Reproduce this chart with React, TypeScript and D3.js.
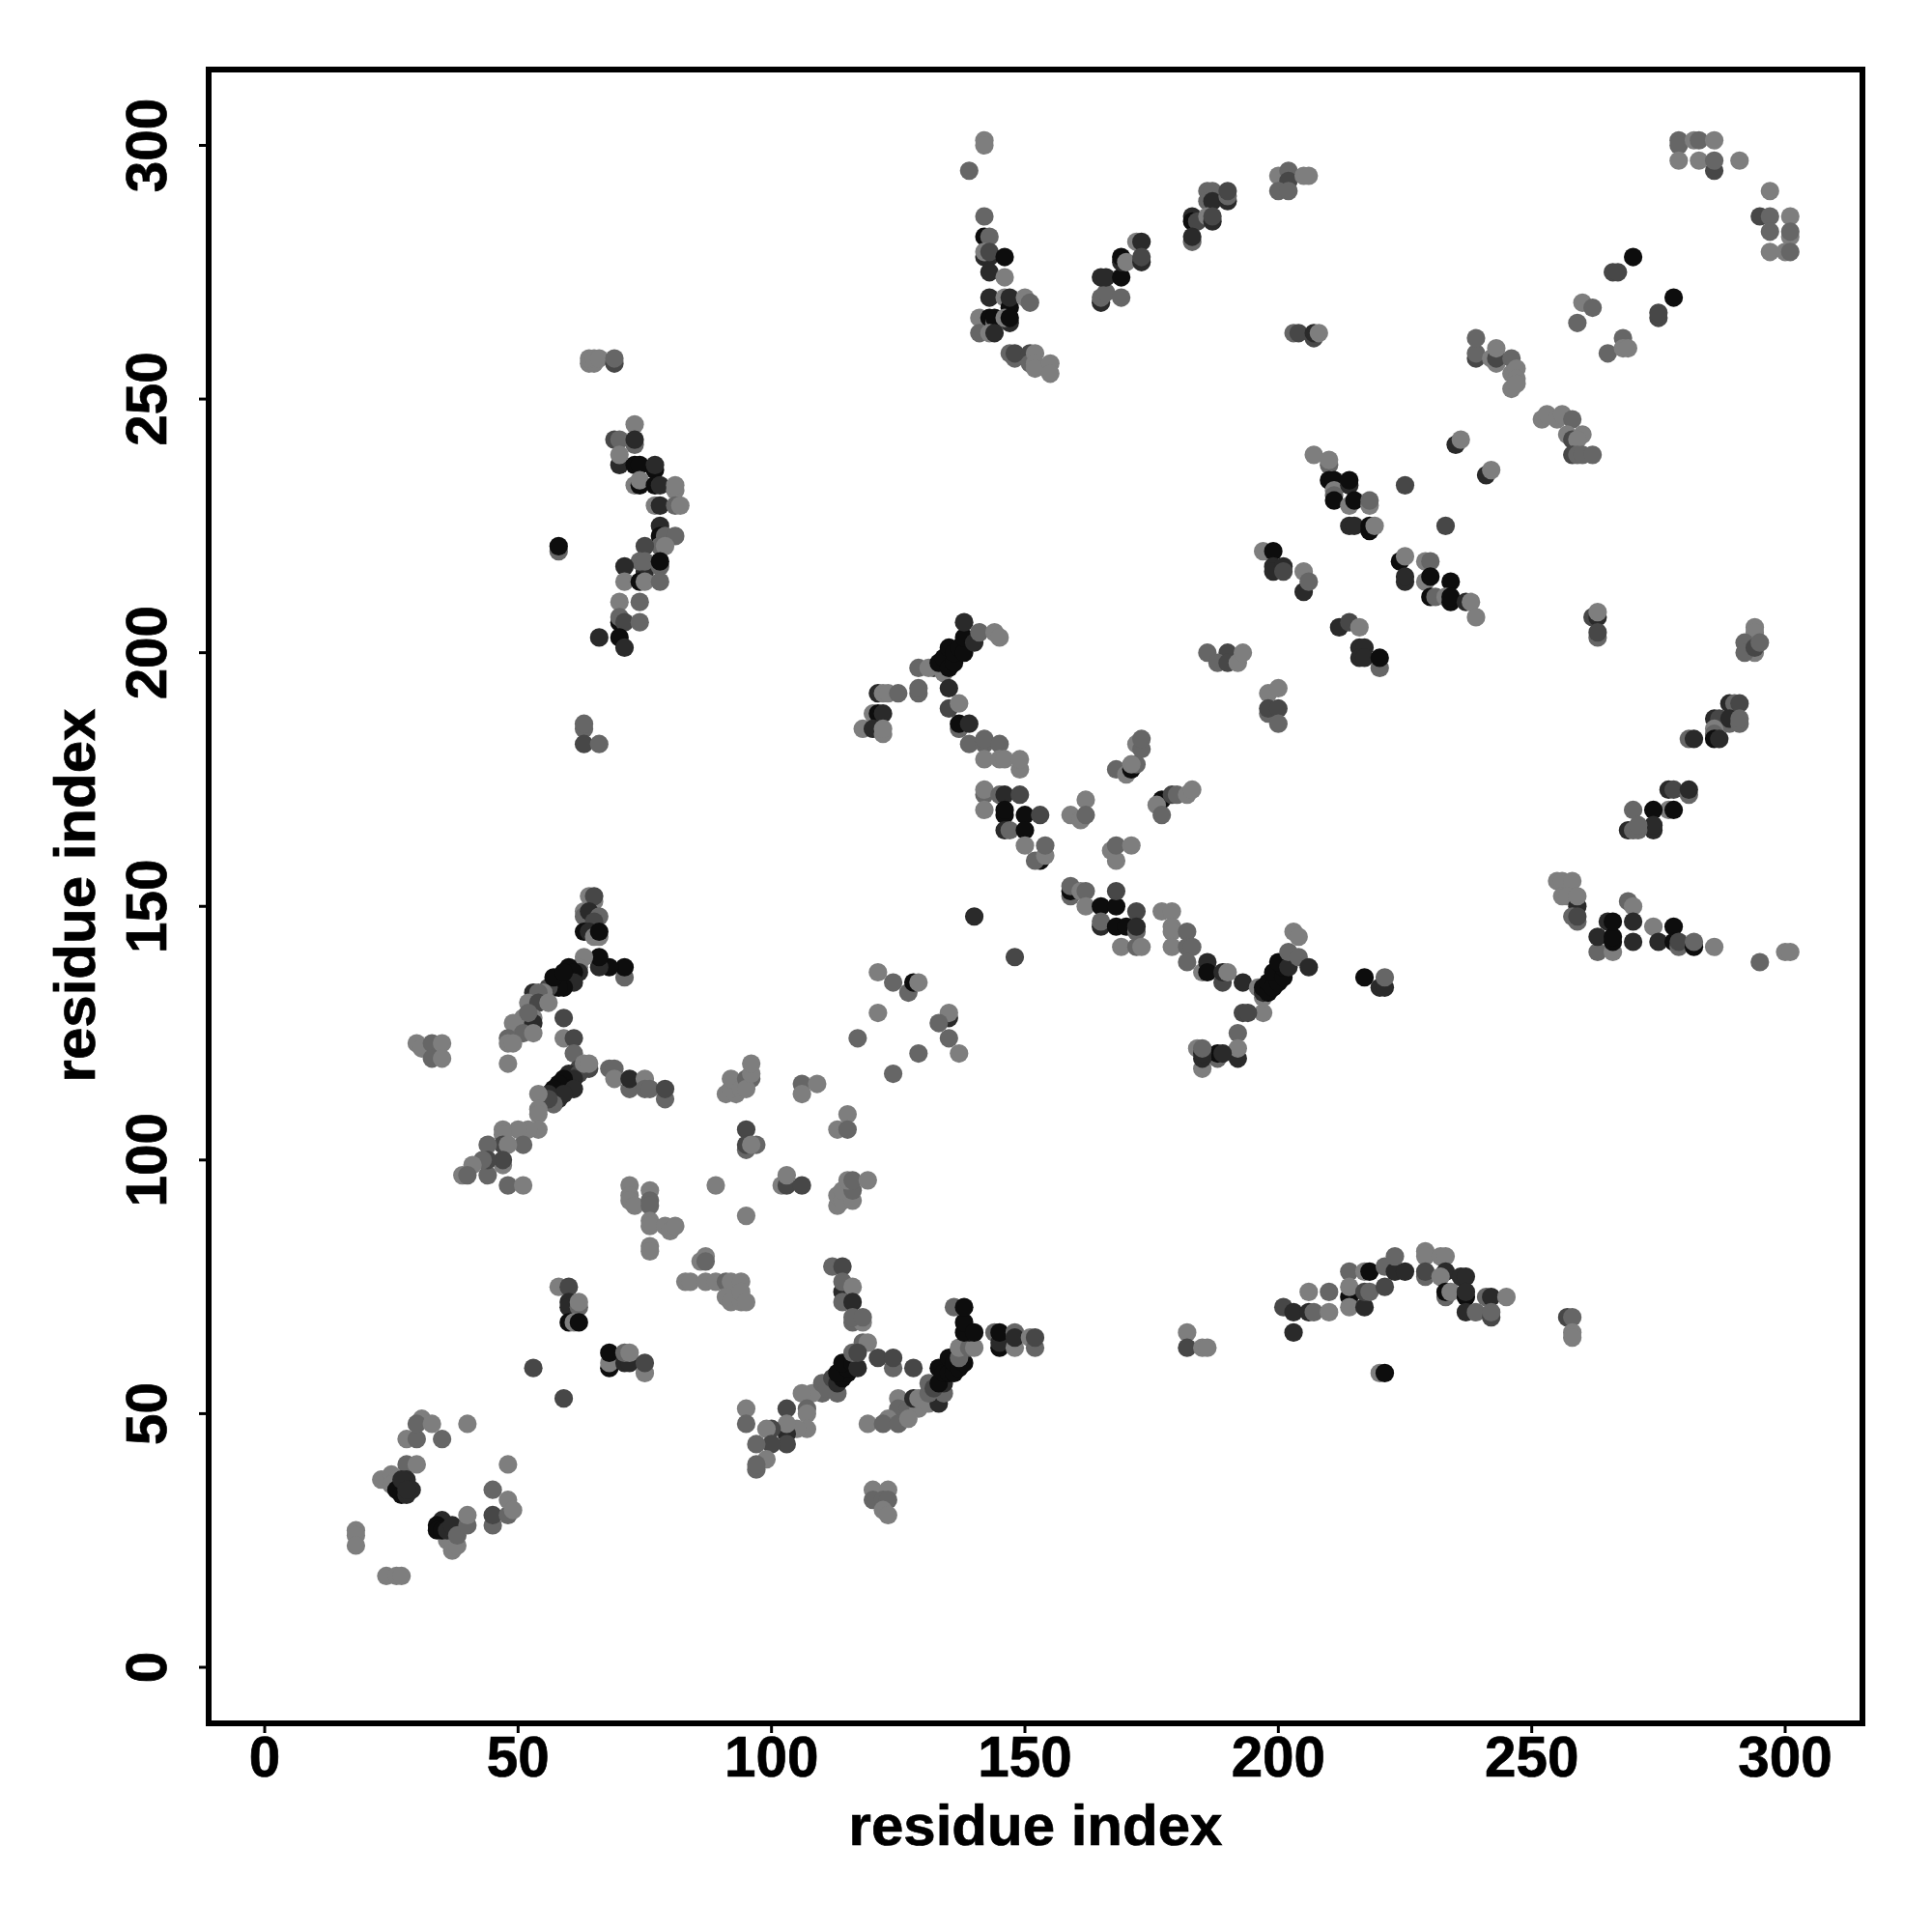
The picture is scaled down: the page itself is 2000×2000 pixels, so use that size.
import React from "react";
import * as d3 from "d3";

// each contact: [residue i, residue j, shade level 1 (weakest, light) .. 5 (strongest, black)]
type C = [number, number, number];

const tickValues = [0, 50, 100, 150, 200, 250, 300];
const axisTitle = "residue index";
const shadeLevels = [1, 2, 3, 4, 5];
const shadeColors = ["#7e7e7e", "#666666", "#474747", "#2a2a2a", "#0d0d0d"];

const lowerLeft: C[] = [
  [18,27,1],[18,26,1],[18,24,1],[24,18,1],[26,18,1],[27,18,1],
  [23,37,1],[25,38,1],[26,37,1],[25,36,1],[28,40,2],[30,40,1],[26,35,5],[27,34,5],[28,37,4],[27,37,4],[28,34,4],[29,35,4],[28,35,4],
  [28,45,1],[30,45,2],[35,45,2],[31,49,1],[30,48,2],[33,48,1],[40,48,1],
  [37,23,1],[36,25,1],[37,25,1],[38,24,1],[35,29,4],[34,28,5],[34,27,5],[35,27,5],[36,27,4],[37,28,4],[38,26,2],[40,28,2],[40,30,1],
  [48,40,1],[45,35,2],[45,28,2],[45,30,3],[48,30,2],[48,33,1],[49,31,1],
  [53,59,3],[59,53,3],
  [58,75,1],[60,75,3],[60,72,4],[60,71,4],[62,71,2],[62,72,1],[60,68,5],[61,68,1],[62,68,5],
  [68,59,5],[68,60,1],[68,62,5],[71,60,4],[72,60,4],[71,62,2],[72,62,1],[75,58,1],[75,60,3],
];

const helixUpperBranch: C[] = [
  [64,152,1],[65,151,1],[65,152,3],[63,149,1],[63,148,2],[64,149,4],[66,148,2],[65,147,3],[63,145,5],[64,145,4],[65,144,1],[66,144,1],[66,145,5],
  [71,136,2],[71,138,5],[68,138,5],[66,138,4],[66,140,5],[63,140,1],[62,138,1],[62,137,4],[60,136,5],[60,138,5],[61,137,5],[61,135,4],
  [58,136,5],[59,134,5],[57,134,5],[58,134,5],[56,134,3],[57,136,5],[59,137,5],[55,133,1],[53,133,4],[54,133,2],[52,131,1],[54,131,3],[56,131,1],
  [51,128,1],[53,128,1],[53,127,4],[52,129,2],[49,127,1],[51,125,2],[53,125,1],[48,124,2],[48,123,1],[49,123,1],[48,119,1],[59,128,3],
];

const helixLowerBranch: C[] = [
  [59,124,1],[61,124,3],[61,121,2],[62,118,3],[64,118,3],[60,117,4],[62,117,3],[61,116,4],[59,116,5],[60,114,5],[58,115,5],[57,114,5],[58,112,4],[61,114,4],[59,113,4],[56,113,4],[57,111,2],[55,112,3],[56,112,3],[63,119,1],[64,119,1],
  [54,113,1],[54,110,1],[54,109,1],[54,106,1],[52,106,1],[50,106,1],[47,106,1],[47,105,1],
  [51,103,2],[47,103,3],[48,103,1],[44,103,2],[47,99,1],[47,100,3],[44,97,2],[44,100,3],[43,100,2],[41,99,1],[39,97,1],[40,97,2],[48,95,2],[51,95,1],
  [68,118,2],[69,118,2],[69,116,1],[72,114,2],[72,116,4],[75,116,1],[75,114,2],[76,114,2],[79,112,2],[79,114,3],
  [30,123,1],[31,122,1],[33,123,2],[35,123,1],[33,120,2],[35,120,1],
];

const centreScatter: C[] = [
  [91,113,1],[93,113,1],[92,114,1],[92,116,1],[94,114,1],[95,116,2],[96,116,2],[95,114,1],[96,117,1],[96,119,1],
  [106,115,2],[109,115,1],[106,113,1],[115,109,1],[113,106,1],[115,106,2],[95,106,3],[95,102,2],[95,103,3],[97,103,2],[96,103,1],
  [102,95,1],[103,95,3],[103,97,1],[106,95,3],
  [113,91,1],[113,93,1],[114,92,1],[116,92,1],[114,94,1],[116,94,2],[115,96,1],[116,96,2],[119,96,1],[95,89,1],[89,95,1],
  [72,95,1],[72,93,1],[72,92,1],[73,91,1],[76,94,1],[76,92,2],[76,91,2],[76,88,1],[76,87,1],[79,87,1],[80,86,1],[81,87,1],[76,83,1],[76,82,1],
  [87,81,1],[86,80,1],[87,80,2],[83,76,1],[84,76,1],[87,76,1],[89,76,1],[91,76,2],[92,76,1],[94,76,1],[91,73,1],[92,72,1],[94,72,1],[94,74,1],[95,72,1],
];

const lowerHelices: C[] = [
  [112,79,2],[114,79,3],[114,74,4],[114,76,2],[116,75,1],[114,72,2],[116,72,4],[116,68,2],[118,68,1],[116,69,2],[118,69,2],
  [118,64,2],[119,64,1],[121,61,3],[124,59,2],[124,61,3],[128,59,3],
  [110,54,2],[113,54,2],[108,54,1],[106,54,1],[107,51,2],[107,50,1],[107,47,1],[105,47,1],[103,51,3],[103,46,4],[103,48,1],[103,44,3],[100,47,3],[99,47,1],[100,44,3],[97,44,2],[99,41,1],[97,39,2],[97,40,2],[95,51,1],[95,48,2],[119,48,1],
  [110,56,2],[111,55,2],[112,57,3],[113,56,4],[114,57,5],[115,58,5],[113,58,5],[115,59,5],[114,60,5],[116,60,5],[117,59,4],[116,62,2],[117,62,3],
  [125,53,1],[125,51,2],[127,51,2],[129,51,1],[123,49,1],[122,48,2],[125,48,2],[127,49,1],[128,53,4],[129,53,1],
  [131,52,1],[133,52,4],[131,54,2],[134,54,2],[131,56,2],[132,55,3],[134,56,4],[133,56,5],[133,59,5],[134,58,5],[135,58,5],[136,58,5],[135,61,5],[136,60,5],[137,59,5],[138,60,5],[137,61,2],
  [137,63,1],[139,63,2],[140,63,1],[139,66,4],[138,66,5],[138,68,5],[140,66,5],[136,71,2],[138,71,5],
  [144,66,2],[145,63,5],[145,64,4],[145,66,5],[148,63,1],[148,66,2],[148,65,4],[151,65,1],[152,63,2],[152,65,3],
  [120,35,1],[123,35,1],[120,33,2],[122,33,2],[123,33,2],[122,31,1],[123,30,1],
  [182,66,1],[182,63,3],[185,63,1],[186,63,1],
];

const arcAtEighty: C[] = [
  [201,71,3],[203,70,4],[203,66,4],[206,74,1],[210,74,2],[206,70,4],[207,70,2],[210,70,1],
  [214,78,2],[217,78,1],[218,78,5],[214,73,5],[214,75,1],[214,71,1],[217,71,4],[217,74,3],[218,74,2],[221,75,3],[221,79,2],[223,78,4],[223,81,2],[225,78,4],[220,58,1],[221,58,5],
  [229,82,1],[229,81,1],[229,77,2],[229,78,3],[232,81,1],[233,81,1],[233,78,4],[232,77,1],[233,73,2],[233,74,5],[234,74,1],[236,77,4],[237,77,4],[237,73,5],[237,74,4],[237,70,4],[239,70,2],
  [241,73,2],[242,73,4],[245,73,1],[242,69,3],[242,70,2],[257,69,3],[258,69,2],[258,66,1],[258,65,1],
];

const centralDiagonal: C[] = [
  [132,197,3],[129,197,2],[131,197,1],[134,196,1],[133,198,5],[134,199,5],[135,197,5],[136,198,5],[135,201,5],[136,200,5],[137,201,5],[138,200,5],[138,203,5],[138,206,4],[140,202,4],[141,204,2],[144,204,1],[145,203,1],
  [129,192,2],[129,193,2],[135,193,4],[121,192,4],[122,192,1],[123,192,1],[125,192,2],
  [120,188,1],[121,188,5],[122,188,4],[118,185,1],[120,185,4],[122,184,1],[122,185,1],
  [135,189,3],[137,190,1],[137,185,2],[137,186,5],[139,186,4],[139,182,2],[142,182,2],[142,183,2],[145,182,2],[142,179,1],[145,179,1],[146,179,1],[149,177,1],[149,179,1],
  [142,172,2],[142,173,1],[142,169,1],[145,172,2],[146,172,4],[149,172,3],[146,168,5],[146,169,5],[150,168,5],[153,168,3],[146,165,4],[147,165,2],[150,165,5],[150,162,1],[153,159,5],[152,159,2],[154,160,1],[154,162,2],
  [140,148,4],[148,140,3],
  [162,171,1],[159,168,1],[161,167,1],[162,168,2],[168,177,2],[170,176,1],[171,177,5],[172,178,2],[171,178,1],[172,182,1],[173,181,2],[173,183,2],
  [167,161,1],[168,159,1],[168,162,2],[171,162,1],[177,171,5],[176,170,1],[177,168,2],[179,172,3],[180,172,2],[182,172,1],[183,173,1],
  [159,152,2],[159,153,5],[159,154,2],[161,153,1],[162,153,2],[162,150,1],
  [165,150,5],[168,150,5],[168,153,3],[172,149,3],[165,146,4],[165,147,2],[168,146,5],[170,146,5],[172,145,2],[172,146,4],
  [169,142,1],[172,142,2],[173,142,1],[177,149,1],[179,149,1],[179,146,1],[179,145,1],[179,142,1],[182,145,2],[182,142,2],[183,142,2],[182,139,2],
  [185,137,1],[186,139,4],[186,137,5],[189,135,3],[189,137,4],[190,137,1],[193,135,4],
  [197,129,1],[197,132,1],[196,134,1],[197,133,4],[197,134,5],[198,133,5],[198,135,5],[199,134,5],[200,135,5],[199,137,5],[201,136,5],[201,138,5],[200,139,5],[202,138,4],[202,141,2],[204,140,2],[206,138,4],[203,145,1],[204,144,1],
  [193,129,3],[194,129,3],[192,125,2],[192,120,4],[192,122,1],[188,120,2],[188,121,5],[189,121,4],[184,122,1],[185,118,1],[185,120,4],[185,121,4],[185,122,2],
  [217,136,5],[220,134,4],[221,134,4],[221,136,2],
  [121,137,1],[124,135,2],[127,133,2],[128,135,5],[129,135,1],[121,129,1],[135,128,4],[135,129,1],[133,127,2],[135,124,2],[117,124,2],[137,121,1],[129,121,2],[124,117,2],
];

const topMiddle: C[] = [
  [142,301,1],[142,300,1],[139,295,2],[142,286,2],[142,282,5],[143,282,2],[142,278,4],[143,278,4],[142,279,1],[143,279,3],[146,278,5],[143,275,4],[146,274,1],
  [143,270,4],[146,270,1],[147,268,5],[147,270,4],[150,270,1],[151,269,2],[141,266,1],[143,266,5],[144,265,2],[144,266,5],[147,265,4],[146,266,1],[147,266,5],[141,263,2],[143,263,1],[144,263,4],
  [147,259,2],[148,258,2],[148,259,3],[151,259,3],[151,257,2],[152,259,1],[152,257,1],[152,256,1],[155,257,1],[155,255,1],
  [165,269,4],[165,270,2],[166,271,2],[165,274,4],[166,274,4],[169,274,5],[169,270,2],[169,277,4],[169,278,5],[170,277,1],[172,281,1],[173,281,4],[173,277,4],[173,278,3],
  [183,286,4],[183,285,5],[184,285,3],[183,281,2],[183,282,4],[186,291,2],[187,291,2],[186,289,2],[187,289,4],[186,286,1],[187,285,4],[187,286,3],[190,289,4],[190,290,2],[190,291,3],
  [200,294,1],[202,295,2],[202,293,3],[205,294,1],[206,294,1],[200,291,2],[202,291,2],
  [203,263,2],[204,263,3],[207,262,3],[207,263,4],[208,263,1],
];

const upperRight: C[] = [
  [279,301,2],[279,300,2],[282,301,1],[283,301,2],[286,301,1],[279,297,1],[283,297,1],[286,295,3],[286,297,2],[291,297,1],[297,291,1],
  [295,286,3],[297,286,2],[301,286,1],[297,283,2],[301,282,1],[301,283,2],[297,279,1],[300,279,1],[301,279,2],
  [270,278,5],[266,275,3],[267,275,3],[278,270,5],[275,266,3],[275,267,3],
  [260,269,1],[262,268,2],[259,265,2],[268,262,2],[265,259,2],[268,260,1],[269,260,1],
  [239,258,3],[239,259,2],[239,262,2],[242,258,1],[243,257,1],[243,258,3],[243,260,1],[246,258,2],[246,255,1],[247,256,1],[247,254,1],[246,252,1],[247,253,1],
  [252,246,1],[253,247,1],[255,246,1],[256,247,1],[258,246,2],[257,243,1],[258,242,3],[260,243,1],[259,242,1],[258,239,3],[259,239,2],[260,239,2],[262,239,2],
  [235,241,4],[236,242,1],[241,235,4],[242,236,1],
];

const rightDiagonal: C[] = [
  [207,239,1],[210,237,2],[210,238,1],[210,234,5],[211,234,5],[211,232,1],[214,233,4],[214,234,5],[211,231,2],[211,230,5],[214,229,1],[215,230,5],[218,229,1],[218,230,2],[214,225,4],[215,225,4],[218,224,5],[218,225,5],[219,225,1],
  [225,233,3],[233,225,3],
  [224,218,5],[225,219,1],[225,214,4],[225,215,4],[229,218,1],[230,218,2],[229,214,1],[230,215,5],[234,214,5],[230,211,5],[231,211,2],[233,211,1],[234,210,5],[234,211,5],[237,210,4],[238,210,1],[239,207,1],
  [197,220,1],[199,220,5],[199,217,4],[199,216,4],[201,217,4],[201,216,3],[205,216,1],[205,212,4],[206,214,2],
  [212,205,4],[214,206,3],[216,205,1],[216,201,4],[217,201,4],[216,199,4],[217,199,4],[220,197,2],[220,199,5],
  [186,200,2],[190,200,3],[188,198,2],[190,198,3],[192,198,1],[193,200,1],[198,192,1],[200,193,1],[198,188,2],[198,189,3],[200,189,3],[200,186,2],
  [58,220,2],[58,221,5],
];

const farRight: C[] = [
  [262,207,3],[263,207,4],[263,208,1],[263,203,2],[263,204,3],
  [294,205,1],[294,204,1],[292,202,2],[294,200,1],[292,200,2],[294,201,3],[295,202,2],
  [289,190,4],[290,190,2],[291,190,3],[286,187,4],[287,187,3],[289,186,2],[289,187,4],[291,186,2],[291,187,2],[286,185,1],[286,184,2],[286,183,5],[287,183,4],[281,183,2],[282,183,4],
  [277,173,4],[278,173,3],[281,172,2],[281,173,4],[277,169,1],[278,169,5],[274,169,5],[270,169,2],[274,165,4],[274,166,4],[269,165,4],[270,165,2],[271,165,2],[271,166,2],
  [255,155,1],[256,155,1],[258,155,1],[256,152,1],[257,152,1],[259,150,4],[259,152,1],[258,148,2],[259,147,2],[259,148,3],
  [269,151,2],[270,150,1],[263,141,2],[263,144,4],[265,147,4],[266,141,1],[266,143,5],[266,144,5],[266,147,5],[270,147,4],[270,143,4],
  [274,146,1],[278,146,5],[275,143,4],[278,143,5],[279,142,2],[279,143,3],[282,142,5],[282,143,2],[286,142,1],[295,139,2],[300,141,1],[301,141,1],
];

const upperLeftArc: C[] = [
  [64,257,1],[65,257,1],[64,258,1],[65,258,1],[66,258,1],[69,257,3],[69,258,2],
  [73,245,1],[69,242,3],[70,242,2],[73,241,2],[73,242,4],[70,237,4],[70,239,1],[73,237,5],[74,237,5],[77,236,5],[77,237,4],[73,233,1],[74,233,5],[74,234,1],
  [77,233,5],[78,233,4],[81,232,1],[81,233,1],[77,229,1],[78,229,4],[81,229,2],[82,229,1],[78,225,4],[78,223,5],[79,223,2],[81,223,2],[78,221,2],[79,221,1],[75,221,3],
  [75,216,4],[74,218,2],[75,218,2],[78,217,2],[78,218,5],[71,217,4],[71,214,1],[74,214,5],[75,214,1],[78,214,2],
  [70,210,1],[74,210,2],[70,206,5],[70,207,2],[71,206,3],[74,206,2],[70,203,5],[66,203,4],[71,201,4],
  [63,185,2],[63,186,2],[63,182,3],[66,182,2],
];

const contacts: C[] = [
  ...lowerLeft, ...helixUpperBranch, ...helixLowerBranch, ...centreScatter, ...lowerHelices, ...arcAtEighty,
  ...centralDiagonal, ...topMiddle, ...upperRight, ...rightDiagonal, ...farRight, ...upperLeftArc,
];

const font = "'Liberation Sans', Arial, Helvetica, sans-serif";

export default function App() {
  const x = d3.scaleLinear().domain([0, 300]).range([274, 1848]);
  const y = d3.scaleLinear().domain([0, 300]).range([1726, 150.5]);
  const shade = d3.scaleOrdinal<number, string>().domain(shadeLevels).range(shadeColors);
  const frame = { x0: 216, x1: 1928, y0: 72, y1: 1784 };
  const bold = { fontFamily: font, fontWeight: "bold", fontSize: 60, fill: "#000", stroke: "#000", strokeWidth: 0.7 } as const;
  return (
    <svg width={2000} height={2000} style={{ position: "absolute", left: 0, top: 0, background: "#fff" }}>
      {contacts.map(([i, j, s], k) => (
        <circle key={k} cx={x(i)} cy={y(j)} r={9.6} fill={shade(s)} />
      ))}
      <rect x={frame.x0} y={frame.y0} width={frame.x1 - frame.x0} height={frame.y1 - frame.y0} fill="none" stroke="#000" strokeWidth={6} />
      {tickValues.map((t) => (
        <g key={"x" + t}>
          <line x1={x(t)} x2={x(t)} y1={frame.y1} y2={frame.y1 + 10} stroke="#000" strokeWidth={3} />
          <text transform={`translate(${x(t)},1839) scale(0.973,1)`} textAnchor="middle" {...bold}>{t}</text>
        </g>
      ))}
      {tickValues.map((t) => (
        <g key={"y" + t}>
          <line x1={frame.x0 - 10} x2={frame.x0} y1={y(t)} y2={y(t)} stroke="#000" strokeWidth={3} />
          <text transform={`translate(172,${y(t)}) rotate(-90) scale(0.973,1)`} textAnchor="middle" {...bold}>{t}</text>
        </g>
      ))}
      <text x={1072} y={1910} textAnchor="middle" {...bold}>{axisTitle}</text>
      <text transform="translate(98,927) rotate(-90)" textAnchor="middle" {...bold}>{axisTitle}</text>
    </svg>
  );
}
